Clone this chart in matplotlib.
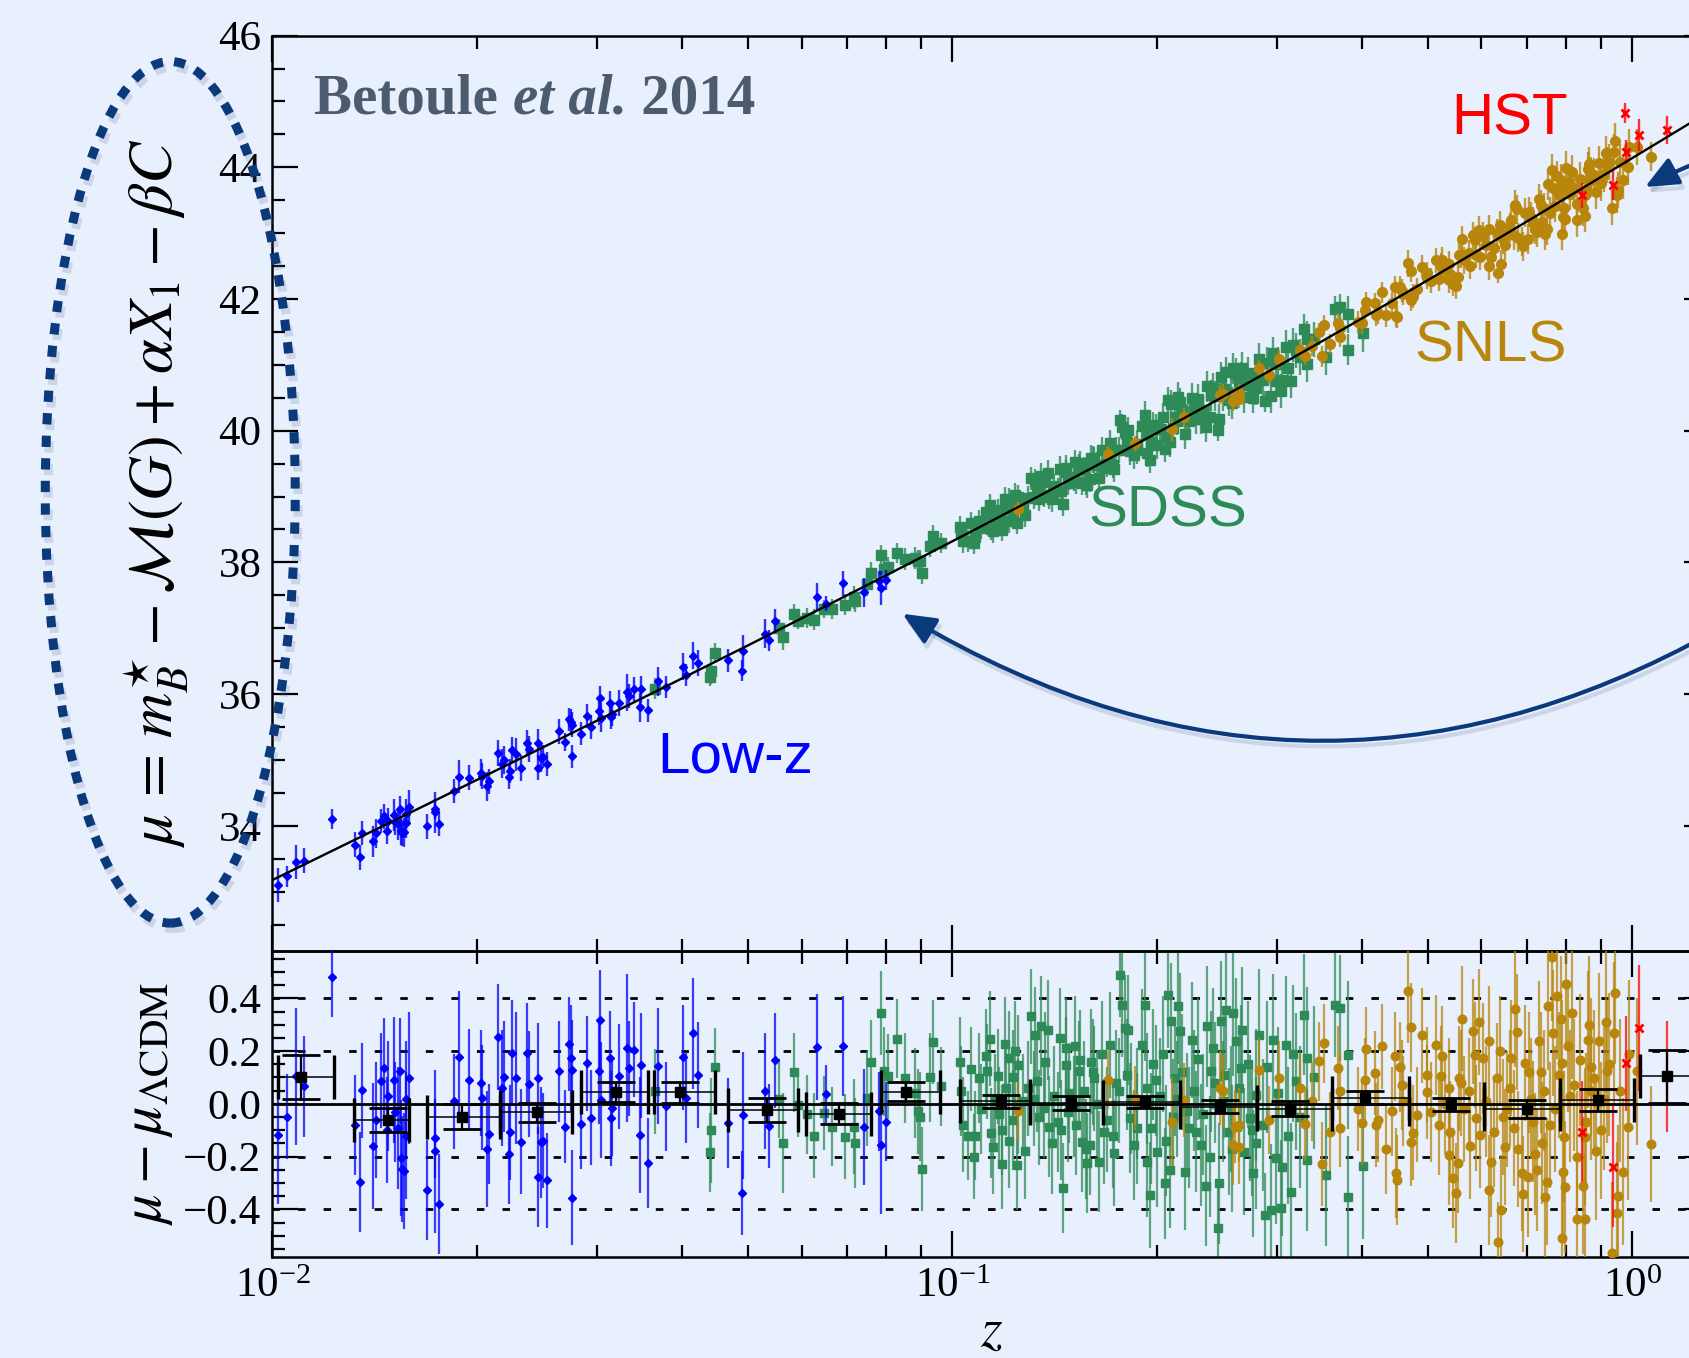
import numpy as np
import matplotlib
matplotlib.use('Agg')
import matplotlib.pyplot as plt
from matplotlib.patches import Ellipse, FancyArrowPatch
from matplotlib.offsetbox import TextArea, HPacker, AnchoredOffsetbox
from matplotlib.colors import to_rgba
import matplotlib.patheffects as pe
from matplotlib.ticker import MultipleLocator, FixedLocator, LogLocator, NullFormatter, FuncFormatter

plt.rcParams['font.family'] = ['Liberation Serif', 'DejaVu Serif']
plt.rcParams['mathtext.fontset'] = 'stix'

# ---------------- data (Hubble residuals) ----------------
lowz_z = [0.01019, 0.01050, 0.01083, 0.01111, 0.01225, 0.01323, 0.01343, 0.01356, 0.01405, 0.01420,
          0.01445, 0.01461, 0.01475, 0.01507, 0.01532, 0.01540, 0.01545, 0.01553, 0.01562, 0.01570,
          0.01589, 0.01687, 0.01732, 0.01737, 0.01759, 0.01847, 0.01883, 0.01947, 0.02026, 0.02030,
          0.02067, 0.02085, 0.02144, 0.02175, 0.02190, 0.02230, 0.02235, 0.02248, 0.02283, 0.02318,
          0.02368, 0.02386, 0.02462, 0.02462, 0.02484, 0.02500, 0.02537, 0.02641, 0.02692, 0.02732,
          0.02745, 0.02758, 0.02760, 0.02843, 0.02897, 0.02940, 0.03024, 0.03033, 0.03045, 0.03134,
          0.03150, 0.03157, 0.03236, 0.03317, 0.03350, 0.03400, 0.03470, 0.03480, 0.03562, 0.03685,
          0.03790, 0.04010, 0.04055, 0.04148, 0.04228, 0.04671, 0.04897, 0.04915, 0.05300, 0.05370,
          0.05483, 0.06314, 0.06509, 0.06895, 0.07410, 0.07850, 0.07980, 0.07800, 0.01480, 0.01515,
          0.01573]
lowz_res = [-0.118, -0.048, 0.104, 0.066, 0.481, -0.080, -0.297, 0.052, -0.160, -0.060,
            0.087, 0.135, -0.100, 0.091, -0.092, 0.125, -0.206, -0.247, -0.254, 0.020,
            0.097, -0.327, -0.130, -0.180, -0.381, 0.009, 0.178, 0.092, 0.080, 0.024,
            -0.171, -0.115, 0.253, 0.059, 0.103, -0.191, -0.108, 0.192, 0.097, -0.143,
            0.192, 0.075, 0.097, -0.276, -0.146, -0.140, -0.289, 0.123, -0.086, 0.227,
            0.173, 0.129, -0.356, -0.077, 0.154, -0.052, 0.123, 0.319, 0.015, 0.173,
            -0.054, -0.016, 0.104, 0.211, 0.135, 0.205, -0.118, 0.146, -0.225, 0.142,
            -0.010, 0.176, 0.022, 0.268, 0.110, -0.073, -0.339, -0.044, 0.047, -0.084,
            0.165, 0.215, 0.038, 0.218, -0.086, -0.156, -0.067, -0.029, 0.030, -0.030,
            -0.120]
lowz_err = [0.26, 0.16, 0.26, 0.19, 0.15, 0.19, 0.19, 0.18, 0.24, 0.22,
            0.18, 0.19, 0.20, 0.24, 0.23, 0.20, 0.22, 0.20, 0.22, 0.22,
            0.25, 0.19, 0.15, 0.31, 0.19, 0.18, 0.25, 0.19, 0.20, 0.20,
            0.22, 0.19, 0.20, 0.22, 0.21, 0.19, 0.18, 0.20, 0.25, 0.20,
            0.19, 0.20, 0.21, 0.19, 0.21, 0.18, 0.18, 0.19, 0.14, 0.18,
            0.20, 0.19, 0.18, 0.17, 0.18, 0.18, 0.20, 0.19, 0.22, 0.18,
            0.18, 0.18, 0.20, 0.28, 0.18, 0.18, 0.22, 0.20, 0.17, 0.22,
            0.17, 0.20, 0.17, 0.21, 0.20, 0.17, 0.16, 0.24, 0.22, 0.16,
            0.18, 0.20, 0.11, 0.19, 0.22, 0.26, 0.15, 0.15, 0.21, 0.19,
            0.24]

sdss_z = [0.0365, 0.04473, 0.04414, 0.04399, 0.05639, 0.0556, 0.05853, 0.0592, 0.0612, 0.06263,
          0.06643, 0.0695, 0.0648, 0.07165, 0.0719, 0.0748, 0.0758, 0.0785, 0.0792, 0.0805,
          0.0830, 0.0852, 0.0881, 0.0890, 0.0897, 0.0901, 0.0928, 0.0937, 0.0963, 0.1026,
          0.1038, 0.1056, 0.1065, 0.1075, 0.1095, 0.1126, 0.1136, 0.1138, 0.1146, 0.1169,
          0.1182, 0.1185, 0.1194, 0.1200, 0.1213, 0.1226, 0.1238, 0.1245, 0.1250, 0.1270,
          0.1305, 0.1322, 0.1333, 0.1350, 0.1362, 0.1382, 0.1386, 0.1439, 0.1446, 0.1455,
          0.1467, 0.1486, 0.1517, 0.1533, 0.1541, 0.1550, 0.1580, 0.1592, 0.1618, 0.1645,
          0.1671, 0.1708, 0.1727, 0.1767, 0.1779, 0.1792, 0.1808, 0.1822, 0.1852, 0.1866,
          0.1100, 0.1155, 0.1250, 0.1290, 0.1340, 0.1410, 0.1480, 0.1560, 0.1630, 0.1690,
          0.1740, 0.1830, 0.1400, 0.1520, 0.1600, 0.1210, 0.1919, 0.1900, 0.1935, 0.1952,
          0.1960, 0.2000, 0.2053, 0.2076, 0.2100, 0.2125, 0.2150, 0.2160, 0.2200, 0.2210,
          0.2250, 0.2280, 0.2320, 0.2365, 0.2400, 0.2460, 0.2465, 0.2485, 0.2500, 0.2525,
          0.2550, 0.2590, 0.2615, 0.2655, 0.2685, 0.2740, 0.2765, 0.2795, 0.2825, 0.2880,
          0.2945, 0.2960, 0.2990, 0.3040, 0.3090, 0.3145, 0.3200, 0.3288, 0.3320, 0.3320,
          0.3540, 0.3651, 0.3710, 0.3819, 0.3819, 0.4018, 0.2020, 0.2110, 0.2180, 0.2270,
          0.2340, 0.2430, 0.2570, 0.2640, 0.2720, 0.2860, 0.3010, 0.3120, 0.3250, 0.3400,
          0.2060, 0.2390, 0.2800, 0.1970, 0.1030, 0.1080, 0.1120, 0.1170, 0.1230, 0.1280,
          0.1320, 0.1370, 0.1430, 0.1470, 0.1510, 0.1570, 0.1610, 0.1660, 0.1720, 0.1760,
          0.1810, 0.1870, 0.1930, 0.1990, 0.2040, 0.2090, 0.2140, 0.2230, 0.2300, 0.2360,
          0.2420, 0.2510, 0.2580, 0.2670, 0.2760, 0.2900, 0.3050, 0.3170]
sdss_res = [0.047, 0.138, -0.101, -0.184, -0.149, 0.020, 0.120, -0.004, -0.040, -0.120,
            -0.086, -0.124, -0.035, -0.086, -0.149, 0.022, 0.158, 0.344, 0.123, 0.104,
            0.247, 0.097, 0.040, -0.029, -0.048, -0.247, 0.100, 0.234, 0.066, 0.158,
            -0.080, -0.120, 0.133, -0.200, 0.097, 0.123, 0.247, -0.111, -0.162, 0.104,
            -0.099, -0.229, 0.227, 0.059, 0.173, -0.061, 0.201, -0.232, 0.148, 0.009,
            0.332, 0.262, 0.085, 0.294, -0.016, 0.281, -0.086, 0.249, -0.099, -0.320,
            0.148, 0.040, 0.218, 0.123, 0.167, -0.143, -0.225, -0.156, 0.097, -0.219,
            -0.105, 0.224, -0.187, 0.490, 0.376, 0.287, 0.110, -0.054, -0.156, -0.092,
            -0.020, 0.020, -0.010, 0.060, -0.050, 0.030, -0.030, 0.050, 0.000, -0.060,
            0.080, 0.020, -0.150, -0.080, 0.160, -0.140, 0.373, 0.224, 0.059, -0.346,
            -0.092, -0.181, -0.301, 0.411, 0.313, 0.097, 0.370, 0.275, -0.257, -0.029,
            0.243, -0.105, -0.156, 0.294, 0.123, -0.470, -0.301, 0.313, 0.009, 0.357,
            -0.105, 0.344, 0.237, 0.135, -0.181, -0.054, -0.263, 0.034, 0.262, -0.422,
            -0.403, 0.243, -0.206, -0.396, 0.224, -0.333, 0.085, 0.338, 0.173, -0.213,
            -0.270, 0.376, 0.363, 0.186, -0.352, -0.234, 0.030, -0.050, 0.120, 0.050,
            -0.040, 0.080, -0.020, 0.060, 0.150, -0.080, 0.040, -0.120, -0.050, 0.100,
            -0.140, -0.200, -0.150, 0.150, 0.050, -0.120, 0.180, -0.040, 0.100, -0.180,
            0.020, 0.160, -0.070, 0.210, -0.010, -0.170, 0.120, 0.190, -0.120, 0.050,
            0.280, 0.000, -0.220, 0.090, 0.190, -0.250, 0.020, -0.090, 0.170, -0.310,
            0.210, 0.110, -0.170, 0.280, -0.100, 0.140, -0.240, 0.190]
sdss_err = [0.16, 0.15, 0.20, 0.15, 0.19, 0.15, 0.15, 0.12, 0.15, 0.16,
            0.15, 0.16, 0.14, 0.18, 0.17, 0.18, 0.16, 0.16, 0.17, 0.16,
            0.15, 0.17, 0.17, 0.16, 0.17, 0.16, 0.17, 0.16, 0.15, 0.17,
            0.18, 0.17, 0.16, 0.16, 0.17, 0.18, 0.18, 0.17, 0.18, 0.18,
            0.17, 0.17, 0.18, 0.18, 0.18, 0.19, 0.19, 0.17, 0.19, 0.18,
            0.18, 0.18, 0.19, 0.19, 0.19, 0.19, 0.19, 0.19, 0.19, 0.17,
            0.18, 0.19, 0.19, 0.19, 0.19, 0.19, 0.19, 0.19, 0.20, 0.19,
            0.20, 0.20, 0.20, 0.16, 0.20, 0.20, 0.21, 0.21, 0.21, 0.21,
            0.17, 0.17, 0.18, 0.18, 0.18, 0.19, 0.19, 0.19, 0.20, 0.20,
            0.20, 0.21, 0.19, 0.19, 0.20, 0.18, 0.21, 0.21, 0.21, 0.20,
            0.21, 0.21, 0.21, 0.20, 0.22, 0.22, 0.22, 0.22, 0.22, 0.22,
            0.22, 0.23, 0.23, 0.23, 0.23, 0.16, 0.23, 0.23, 0.23, 0.23,
            0.24, 0.24, 0.24, 0.24, 0.24, 0.24, 0.24, 0.25, 0.25, 0.16,
            0.25, 0.25, 0.25, 0.26, 0.26, 0.26, 0.26, 0.23, 0.27, 0.27,
            0.27, 0.20, 0.20, 0.28, 0.23, 0.28, 0.22, 0.22, 0.22, 0.23,
            0.23, 0.23, 0.24, 0.24, 0.24, 0.25, 0.25, 0.26, 0.27, 0.27,
            0.21, 0.23, 0.25, 0.21, 0.17, 0.17, 0.18, 0.18, 0.18, 0.18,
            0.18, 0.19, 0.19, 0.19, 0.19, 0.19, 0.20, 0.20, 0.20, 0.20,
            0.21, 0.21, 0.21, 0.21, 0.22, 0.22, 0.22, 0.23, 0.23, 0.23,
            0.23, 0.24, 0.24, 0.24, 0.25, 0.25, 0.26, 0.26]

snls_z = [0.1250, 0.1692, 0.1855, 0.2101, 0.2190, 0.2474, 0.2500, 0.2600, 0.2590, 0.2640,
          0.2640, 0.2827, 0.2920, 0.3020, 0.3250, 0.3300, 0.3380, 0.3460, 0.3502, 0.3520,
          0.3590, 0.3690, 0.3710, 0.3720, 0.4000, 0.4064, 0.4180, 0.4200, 0.4220, 0.4290,
          0.4350, 0.4430, 0.4480, 0.4490, 0.4510, 0.4580, 0.4680, 0.4720, 0.4720, 0.4820,
          0.4990, 0.4050, 0.4990, 0.5152, 0.5230, 0.5380, 0.5380, 0.5400, 0.5500, 0.5550,
          0.5570, 0.5608, 0.5830, 0.5870, 0.5900, 0.5970, 0.6040, 0.6150, 0.6150, 0.6250,
          0.6320, 0.6348, 0.6400, 0.6500, 0.6630, 0.6770, 0.6880, 0.6950, 0.7030, 0.7140,
          0.7250, 0.7290, 0.7370, 0.7440, 0.7480, 0.7520, 0.7620, 0.7640, 0.7800, 0.7870,
          0.7880, 0.7930, 0.7970, 0.8000, 0.8160, 0.8290, 0.8380, 0.8510, 0.8510, 0.8560,
          0.8600, 0.8690, 0.8790, 0.8930, 0.9160, 0.9180, 0.9340, 0.9390, 0.9440, 0.9480,
          0.9700, 0.9840, 1.0170, 1.0650, 0.5300, 0.5650, 0.5750, 0.6100, 0.6450, 0.6600,
          0.6700, 0.7100, 0.7350, 0.7700, 0.8100, 0.8300, 0.8700, 0.9000, 0.9600, 0.6800,
          0.5200, 0.7850, 0.4600, 0.3950, 0.4550, 0.4760, 0.4900, 0.5050, 0.5250, 0.5450,
          0.5600, 0.5780, 0.5950, 0.6200, 0.6380, 0.6550, 0.6720, 0.6900, 0.7050, 0.7200,
          0.7420, 0.7580, 0.7750, 0.7920, 0.8050, 0.8220, 0.8450, 0.8650, 0.8850, 0.9080,
          0.9250, 0.9520, 0.9900]
snls_res = [-0.029, 0.091, 0.022, -0.067, 0.015, 0.059, 0.047, -0.086, -0.156, -0.080,
            -0.162, 0.129, -0.061, 0.097, 0.059, -0.077, 0.009, 0.161, -0.229, 0.230,
            -0.105, 0.135, -0.090, 0.047, -0.073, 0.208, 0.116, -0.080, -0.061, 0.218,
            -0.171, -0.029, 0.180, -0.263, -0.289, 0.072, 0.429, 0.290, -0.143, -0.042,
            0.110, 0.090, 0.045, 0.224, 0.104, 0.059, -0.194, -0.105, -0.339, -0.225,
            0.097, 0.323, 0.275, 0.186, -0.054, -0.118, 0.173, 0.237, -0.327, -0.105,
            0.097, -0.523, -0.403, -0.162, 0.173, 0.272, -0.263, 0.154, -0.276, -0.067,
            -0.251, 0.237, -0.149, -0.352, -0.295, 0.370, 0.556, 0.268, 0.110, -0.510,
            0.154, -0.124, -0.314, 0.456, 0.344, -0.437, 0.167, -0.437, -0.124, -0.067,
            0.243, 0.047, 0.097, 0.237, 0.310, 0.123, -0.567, 0.268, 0.420, -0.415,
            -0.257, -0.086, 0.123, -0.152, 0.000, -0.020, 0.050, 0.010, -0.050, 0.060,
            -0.090, 0.020, 0.120, -0.020, 0.030, -0.200, 0.140, -0.100, 0.050, -0.170,
            -0.080, 0.320, 0.010, -0.020, 0.140, -0.110, 0.260, -0.030, 0.180, -0.280,
            0.080, -0.160, 0.310, -0.220, 0.200, -0.020, 0.360, -0.340, 0.120, -0.190,
            0.050, -0.080, 0.410, -0.260, 0.220, 0.070, -0.310, 0.300, -0.180, 0.020,
            0.150, -0.350, 0.190]
snls_err = [0.11, 0.11, 0.12, 0.17, 0.14, 0.14, 0.14, 0.14, 0.15, 0.14,
            0.14, 0.12, 0.13, 0.14, 0.13, 0.14, 0.15, 0.15, 0.16, 0.15,
            0.15, 0.16, 0.15, 0.15, 0.16, 0.16, 0.16, 0.16, 0.16, 0.16,
            0.17, 0.17, 0.17, 0.17, 0.17, 0.17, 0.20, 0.17, 0.17, 0.18,
            0.18, 0.16, 0.18, 0.19, 0.19, 0.19, 0.19, 0.19, 0.19, 0.19,
            0.20, 0.20, 0.20, 0.20, 0.20, 0.20, 0.21, 0.21, 0.21, 0.21,
            0.21, 0.15, 0.21, 0.22, 0.22, 0.22, 0.22, 0.22, 0.23, 0.23,
            0.23, 0.23, 0.23, 0.24, 0.24, 0.24, 0.24, 0.24, 0.24, 0.24,
            0.24, 0.25, 0.25, 0.25, 0.25, 0.25, 0.25, 0.25, 0.26, 0.26,
            0.26, 0.26, 0.26, 0.26, 0.27, 0.27, 0.27, 0.27, 0.27, 0.27,
            0.28, 0.28, 0.28, 0.22, 0.19, 0.20, 0.20, 0.21, 0.22, 0.22,
            0.22, 0.23, 0.23, 0.24, 0.25, 0.25, 0.26, 0.26, 0.27, 0.22,
            0.19, 0.24, 0.17, 0.16, 0.17, 0.18, 0.18, 0.19, 0.19, 0.19,
            0.20, 0.20, 0.20, 0.21, 0.21, 0.22, 0.22, 0.22, 0.23, 0.23,
            0.23, 0.24, 0.24, 0.25, 0.25, 0.25, 0.26, 0.26, 0.26, 0.27,
            0.27, 0.27, 0.28]

hst_z = [0.844, 0.938, 0.975, 0.979, 1.023, 1.126]
hst_res = [-0.105, -0.238, 0.750, 0.154, 0.287, 0.104]
hst_err = [0.19, 0.23, 0.15, 0.18, 0.24, 0.21]

# binned residuals: centre, bin edges, mean, error
bin_z = [0.0110, 0.0148, 0.0190, 0.0245, 0.0320, 0.0397, 0.0533, 0.0682, 0.0856, 0.1181,
         0.1492, 0.1919, 0.2474, 0.3135, 0.4043, 0.5420, 0.6990, 0.8890, 1.1260]
bin_lo = [0.0102, 0.0132, 0.0169, 0.0216, 0.0284, 0.0364, 0.0468, 0.0609, 0.0785, 0.1026,
          0.1300, 0.1667, 0.2161, 0.2807, 0.3622, 0.4697, 0.6050, 0.7826, 1.0250]
bin_hi = [0.0123, 0.0159, 0.0216, 0.0276, 0.0357, 0.0447, 0.0592, 0.0758, 0.0958, 0.1300,
          0.1667, 0.2161, 0.2807, 0.3622, 0.4697, 0.6050, 0.7826, 1.0050, 1.3000]
bin_res = [0.102, -0.061, -0.049, -0.031, 0.044, 0.044, -0.023, -0.037, 0.045, 0.009,
           0.002, 0.007, -0.011, -0.018, 0.023, -0.002, -0.020, 0.015, 0.104]
bin_err = [0.084, 0.044, 0.048, 0.036, 0.038, 0.040, 0.045, 0.040, 0.036, 0.025,
           0.027, 0.023, 0.024, 0.027, 0.024, 0.026, 0.035, 0.041, 0.100]

# LCDM model behind the black curve
H0 = 70.0
Om = 0.27


def mu_lcdm(z):
    z = np.asarray(z, dtype=float)
    zz = np.linspace(0, 1.6, 4001)
    inv_e = 1.0 / np.sqrt(Om * (1 + zz) ** 3 + 1 - Om)
    dc = np.concatenate([[0], np.cumsum(0.5 * (inv_e[1:] + inv_e[:-1]) * np.diff(zz))])
    dl = (1 + z) * np.interp(z, zz, dc) * 299792.458 / H0
    return 5 * np.log10(dl) + 25


BG = '#e8effd'
NAVY = '#0b3a7c'
C_LOWZ = '#0000ff'
C_SDSS = '#2e8b57'
C_SNLS = '#b8860b'
C_HST = '#ff0000'

fig = plt.figure(figsize=(16.89, 13.58), dpi=100, facecolor=BG)
ax1 = fig.add_axes([0.1613, 0.2998, 0.851, 0.6740])
ax2 = fig.add_axes([0.1613, 0.0745, 0.851, 0.2253])
for ax in (ax1, ax2):
    ax.set_facecolor('none')
    ax.set_xscale('log')
    ax.set_xlim(0.01, 1.3)
    for s in ax.spines.values():
        s.set_linewidth(1.8)
    ax.tick_params(which='both', direction='in', top=True, right=True, width=1.6,
                   labelsize=31, pad=8)
    ax.tick_params(which='major', length=19)
    ax.tick_params(which='minor', length=9)
    ax.xaxis.set_major_locator(LogLocator(base=10, numticks=10))
    ax.xaxis.set_minor_locator(LogLocator(base=10, subs=np.arange(2, 10), numticks=20))
    ax.xaxis.set_minor_formatter(NullFormatter())

# z, residual, error, colour, marker, size (top), size (bottom), zorder
surveys = [
    (sdss_z, sdss_res, sdss_err, C_SDSS, 's', 6.5, 5.8, 2),
    (snls_z, snls_res, snls_err, C_SNLS, 'o', 7.0, 6.2, 3),
    (lowz_z, lowz_res, lowz_err, C_LOWZ, 'D', 4.2, 3.8, 4),
    (hst_z, hst_res, hst_err, C_HST, 'x', 5.5, 5.5, 5),
]

zline = np.logspace(-2, np.log10(1.3), 400)

# ---- top panel: Hubble diagram ----
for z, r, e, c, m, ms1, ms2, zo in surveys:
    z = np.array(z)
    mu = mu_lcdm(z) + np.array(r)
    ax1.errorbar(z, mu, yerr=e, fmt=m, color=c, mec=c, mew=2.0 if m == 'x' else 1.0, ms=ms1,
                 ecolor=to_rgba(c, 0.8), elinewidth=1.7, capsize=0, zorder=zo)
ax1.plot(zline, mu_lcdm(zline), color='k', lw=1.7, zorder=8)
ax1.set_ylim(32.1, 46)
ax1.yaxis.set_major_locator(FixedLocator([34, 36, 38, 40, 42, 44, 46]))
ax1.yaxis.set_minor_locator(MultipleLocator(0.5))
ax1.tick_params(labelbottom=False)
ax1.set_ylabel(r'$\mu\, =\, m_B^{\star} - \mathcal{M}(G) + \alpha X_1 - \beta C$', fontsize=45)
ax1.yaxis.set_label_coords(-0.057, 0.50)

# ---- bottom panel: residuals ----
for z, r, e, c, m, ms1, ms2, zo in surveys:
    ax2.errorbar(z, r, yerr=e, fmt=m, color=c, mec=c, mew=2.0 if m == 'x' else 1.0,
                 ms=ms2, ecolor=to_rgba(c, 0.75), elinewidth=1.6, capsize=0, zorder=zo)
ax2.axhline(0, color='k', lw=2.0, zorder=6)
for yv in (-0.4, -0.2, 0.2, 0.4):
    ax2.axhline(yv, color='k', lw=2.0, ls=(0, (2.7, 6.5)), zorder=1)
bz = np.array(bin_z)
ax2.errorbar(bz, bin_res, xerr=[bz - np.array(bin_lo), np.array(bin_hi) - bz], fmt='none',
             ecolor='k', elinewidth=1.1, capsize=15.5, capthick=2.4, zorder=7)
ax2.errorbar(bz, bin_res, yerr=bin_err, fmt='s', color='k', ms=6.5, elinewidth=1.6,
             capsize=13.5, capthick=2.0, zorder=8)
ax2.set_ylim(-0.58, 0.58)
ax2.yaxis.set_major_locator(FixedLocator([-0.4, -0.2, 0.0, 0.2, 0.4]))
ax2.yaxis.set_minor_locator(MultipleLocator(0.05))
ax2.yaxis.set_major_formatter(FuncFormatter(lambda v, p: f'{v:.1f}'.replace('-', '\u2212')))
ax2.set_ylabel(r'$\mu - \mu_{\Lambda\mathrm{CDM}}$', fontsize=42)
ax2.yaxis.set_label_coords(-0.068, 0.5)

fig.text(0.587, 0.019, r'$z$', fontsize=40, ha='center', va='center')

# ---- annotations ----
sans = ['Liberation Sans', 'DejaVu Sans']
fig.text(0.894, 0.912, 'HST', color=C_HST, fontsize=42, family=sans, ha='center', va='center')
fig.text(0.8825, 0.7446, 'SNLS', color=C_SNLS, fontsize=42, family=sans, ha='center', va='center')
fig.text(0.6912, 0.6233, 'SDSS', color=C_SDSS, fontsize=42, family=sans, ha='center', va='center')
fig.text(0.4355, 0.4425, 'Low-z', color=C_LOWZ, fontsize=42, family=sans, ha='center', va='center')

tcol = '#4c5b6e'
parts = [TextArea('Betoule ', textprops=dict(color=tcol, fontsize=41, weight='bold')),
         TextArea('et al.', textprops=dict(color=tcol, fontsize=41, weight='bold', style='italic')),
         TextArea(' 2014', textprops=dict(color=tcol, fontsize=41, weight='bold'))]
box = AnchoredOffsetbox(loc='center left', child=HPacker(children=parts, sep=0, pad=0, align='baseline'),
                        bbox_to_anchor=(0.1862, 0.9264), bbox_transform=fig.transFigure,
                        frameon=False, pad=0, borderpad=0)
fig.add_artist(box)

shadow = [pe.SimpleLineShadow(offset=(2, -4), shadow_color='#5a6d90', alpha=0.2), pe.Normal()]
ell = Ellipse((0.1008, 0.6375), 0.148, 0.6345, transform=fig.transFigure, fill=False,
              ec=NAVY, lw=6.5, ls=(0, (1.25, 1.25)))
ell.set_capstyle('butt')
ell.set_path_effects(shadow)
fig.add_artist(ell)

for posA, posB, rad in [((1.033, 0.548), (0.5343, 0.548), -0.3),
                        ((1.054, 0.897), (0.974, 0.8623), 0.08)]:
    arr = FancyArrowPatch(posA=posA, posB=posB, transform=fig.transFigure,
                          connectionstyle=f'arc3,rad={rad}',
                          arrowstyle='-|>,head_length=0.5,head_width=0.22',
                          mutation_scale=40, lw=3.0, color=NAVY, shrinkA=0, shrinkB=0)
    arr.set_path_effects([pe.SimpleLineShadow(offset=(2, -4), shadow_color='#5a6d90', alpha=0.2),
                          pe.Normal()])
    fig.add_artist(arr)

fig.savefig('out.png', dpi=100, facecolor=BG)
